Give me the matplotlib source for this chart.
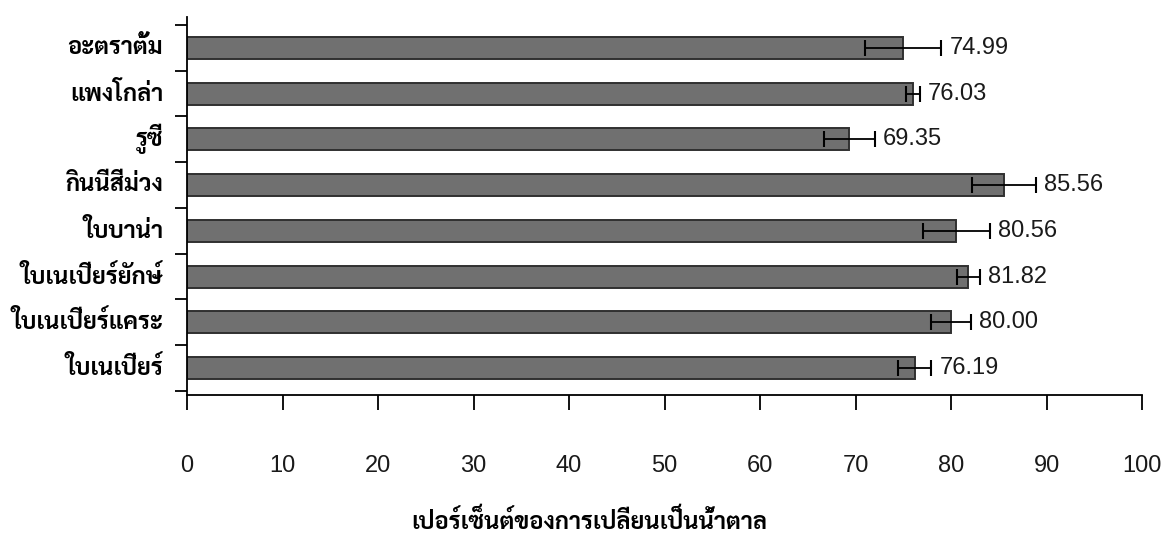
import matplotlib
matplotlib.use("Agg")
from matplotlib import pyplot as plt

plt.rcParams.update({
    "font.family": ["Liberation Sans", "DejaVu Sans"],
    "font.size": 17})

thai = ["Sarabun", "DejaVu Sans"]

# bottom to top
plants = ["ใบเนเปียร์", "ใบเนเปียร์แคระ", "ใบเนเปียร์ยักษ์", "ใบบาน่า",
          "กินนีสีม่วง", "รูซี่", "แพงโกล่า", "อะตราตั้ม"]
conversion = [76.19, 80.00, 81.82, 80.56, 85.56, 69.35, 76.03, 74.99]
conv_err = [1.75, 2.1, 1.2, 3.5, 3.35, 2.65, 0.7, 3.95]
value_labels = ["76.19", "80.00", "81.82", "80.56", "85.56", "69.35", "76.03", "74.99"]
xticks = list(range(0, 101, 10))

fig = plt.figure(figsize=(11.63, 5.41), dpi=100)
ax = fig.add_axes([0.1608, 0.2699, 0.8212, 0.6987])

ypos = range(len(plants))
ax.barh(ypos, conversion, height=0.48, color="#707070", edgecolor="#303030", linewidth=1.4)
ax.errorbar(conversion, ypos, xerr=conv_err, fmt="none", ecolor="black",
            elinewidth=1.3, capsize=6, capthick=1.5)

for y, v, e, lab in zip(ypos, conversion, conv_err, value_labels):
    ax.annotate(lab, (v + e, y), xytext=(6, 0), textcoords="offset points",
                va="center", ha="left", fontsize=17, color="#1a1a1a")

ax.set_xlim(0, 100)
ax.set_ylim(-0.59, 7.675)
ax.set_xticks(xticks)
ax.set_xticklabels([str(t) for t in xticks], fontsize=17, color="#1a1a1a")
ax.tick_params(axis="x", direction="out", length=11, width=1.3, pad=32)

# category boundaries carry the y ticks, names sit in between
ax.set_yticks([i - 0.5 for i in range(len(plants) + 1)])
ax.set_yticklabels([])
ax.tick_params(axis="y", direction="out", length=9, width=1.3)
for y, name in zip(ypos, plants):
    ax.text(-0.025, y, name, transform=ax.get_yaxis_transform(), ha="right", va="center",
            fontsize=17, fontweight="bold", family=thai)

for side in ["top", "right"]:
    ax.spines[side].set_visible(False)
ax.spines["left"].set_linewidth(1.3)
ax.spines["bottom"].set_linewidth(1.3)

fig.text(0.507, 0.037, "เปอร์เซ็นต์ของการเปลี่ยนเป็นน้ำตาล", ha="center", va="center",
         fontsize=17, fontweight="bold", family=thai)

fig.savefig("out.png")
